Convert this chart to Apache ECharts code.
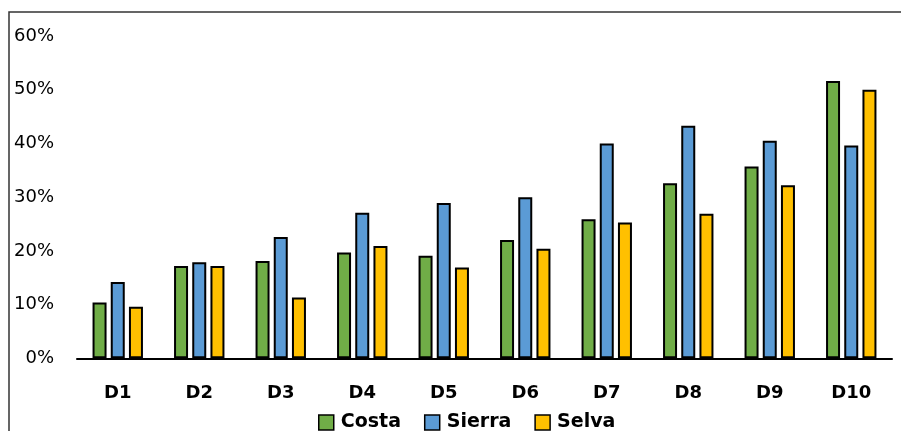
<!DOCTYPE html>
<html>
<head>
<meta charset="utf-8">
<script src="https://cdn.jsdelivr.net/npm/echarts@6/dist/echarts.min.js"></script>
<style>
html,body{margin:0;padding:0;background:#fff;}
#c{width:901px;height:431px;}
</style>
</head>
<body>
<div id="c"></div>
<script>
const categories = ['D1','D2','D3','D4','D5','D6','D7','D8','D9','D10'];
const costa  = [0.104,0.172,0.181,0.197,0.191,0.220,0.259,0.326,0.357,0.516];
const sierra = [0.142,0.179,0.226,0.271,0.289,0.300,0.400,0.433,0.405,0.396];
const selva  = [0.096,0.172,0.113,0.209,0.169,0.204,0.253,0.269,0.322,0.500];
const seriesNames = ['Costa','Sierra','Selva'];
const colors = ['#70AD47','#5B9BD5','#FFC000'];
const FONT = 'DejaVu Sans';

const chart = echarts.init(document.getElementById('c'), null, {renderer:'canvas'});
function bar(name, data, color){
  return {
    name, type:'bar', data,
    barWidth: 14, barGap: '30%',
    itemStyle:{color, borderColor:'#000', borderWidth:2, borderRadius:0, borderJoin:'miter'}
  };
}
chart.setOption({
  animation:false,
  backgroundColor:'#fff',
  textStyle:{fontFamily:FONT},
  graphic:[{
    type:'rect', shape:{x:9, y:12, width:1000, height:1000},
    style:{fill:'none', stroke:'#333', lineWidth:1.5}, silent:true, z:-1
  }],
  grid:{left:77, right:9, top:36, bottom:72.7, containLabel:false},
  legend:{
    data:seriesNames, top:413, left:318, padding:0, icon:'rect',
    itemWidth:15, itemHeight:15, itemGap:23,
    textStyle:{fontFamily:FONT, fontWeight:'bold', fontSize:19, color:'#000', padding:[0,0,0,2]},
    itemStyle:{borderColor:'#000', borderWidth:1.5}
  },
  xAxis:{
    type:'category', data:categories,
    axisLine:{lineStyle:{color:'#000', width:2}},
    axisTick:{show:false},
    axisLabel:{fontFamily:FONT, fontWeight:'bold', fontSize:18, color:'#000', margin:26}
  },
  yAxis:{
    type:'value', min:0, max:0.6, interval:0.1,
    axisLine:{show:false}, axisTick:{show:false}, splitLine:{show:false},
    axisLabel:{fontFamily:FONT, fontSize:18, color:'#000', margin:23,
      formatter:v=>Math.round(v*100)+'%'}
  },
  series:[bar('Costa',costa,colors[0]), bar('Sierra',sierra,colors[1]), bar('Selva',selva,colors[2])]
});
</script>
</body>
</html>
